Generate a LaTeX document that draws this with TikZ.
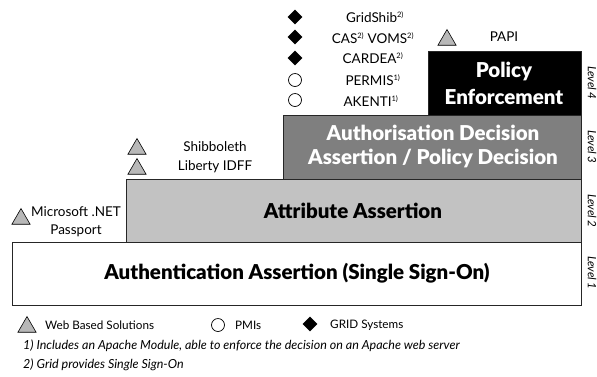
\documentclass[tikz,border=0pt]{standalone}
\usepackage{fontspec}
\setmainfont{Lato}[BoldFont={Lato Black}]
\usetikzlibrary{shapes.geometric}
\definecolor{webgray}{HTML}{B8B8B8}
\definecolor{lvltwo}{HTML}{C2C2C2}
\definecolor{lvlthree}{HTML}{7F7F7F}
\newcommand{\fn}[1]{\textsuperscript{\fontsize{7.5}{7.5}\selectfont #1)}}
\begin{document}
\begin{tikzpicture}[x=1pt,y=-1pt,
  webtri/.style={regular polygon, regular polygon sides=3, draw=black, fill=webgray, line width=0.6pt, inner sep=0pt, minimum size=21pt},
  pmi/.style={circle, draw=black, fill=white, line width=0.7pt, inner sep=0pt, minimum size=13pt},
  gridsys/.style={diamond, fill=black, inner sep=0pt, minimum size=15pt},
  lvlbox/.style={draw=black!85, line width=0.8pt},
  boxtext/.style={font=\fontsize{20.5}{24}\selectfont\bfseries, align=center, inner sep=0pt},
  itemtext/.style={font=\fontsize{13.5}{15}\selectfont, inner sep=0pt},
  legtext/.style={font=\fontsize{11.7}{14}\selectfont, inner sep=0pt, anchor=west},
  lvltext/.style={font=\fontsize{11.5}{12}\selectfont\itshape, rotate=-90, inner sep=0pt},
  fntext/.style={font=\fontsize{12.5}{14}\selectfont\itshape, anchor=west, inner sep=0pt}
]
\useasboundingbox (0,0) rectangle (597,376);
\fill[white] (0,0) rectangle (597,376);

% level boxes
\draw[lvlbox, fill=white] (12,242) rectangle (581,305);
\draw[lvlbox, fill=lvltwo] (126,179) rectangle (581,242);
\draw[lvlbox, fill=lvlthree] (283,115) rectangle (581,179);
\draw[lvlbox, fill=black] (428,51) rectangle (581,115);

\node[boxtext] (l1) at (297,273) {Authentication Assertion (Single Sign-On)};
\node[boxtext] (l2) at (353,211) {Attribute Assertion};
\node[boxtext, text=white, font=\fontsize{20.5}{24}\selectfont\bfseries] (l3) at (433,146) {Authorisation Decision\\Assertion / Policy Decision};
\node[boxtext, text=white, font=\fontsize{20.5}{27}\selectfont\bfseries] (l4) at (504,83) {Policy\\Enforcement};

% level labels
\node[lvltext] (lv4) at (592,83) {Level 4};
\node[lvltext] (lv3) at (592,147) {Level 3};
\node[lvltext] (lv2) at (592,211) {Level 2};
\node[lvltext] (lv1) at (592,273) {Level 1};

% top items
\node[gridsys] (d1) at (295,17) {};
\node[gridsys] (d2) at (295,37) {};
\node[gridsys] (d3) at (295,58) {};
\node[pmi] (c1) at (295,80) {};
\node[pmi] (c2) at (295,100) {};
\node[itemtext] (gridshib) at (375,17) {GridShib\fn{2}};
\node[itemtext] (casvoms) at (373,38) {CAS\fn{2} VOMS\fn{2}};
\node[itemtext] (cardea) at (373,58) {CARDEA\fn{2}};
\node[itemtext] (permis) at (373,80) {PERMIS\fn{1}};
\node[itemtext] (akenti) at (371,101) {AKENTI\fn{1}};

\node[webtri] (tpapi) at (447,40) {};
\node[itemtext] (papi) at (504,37) {PAPI};

\node[webtri] (tshib) at (137,149) {};
\node[itemtext] (shib) at (215,147) {Shibboleth};
\node[webtri] (tlib) at (137,169) {};
\node[itemtext] (lib) at (215,167) {Liberty IDFF};

\node[webtri] (tms) at (21,219) {};
\node[itemtext] (ms) at (76,212) {Microsoft .NET};
\node[itemtext] (pp) at (76,231) {Passport};

% legend
\node[webtri] (lgtri) at (27,327) {};
\node[legtext] (lgweb) at (45,325) {Web Based Solutions};
\node[pmi] (lgcirc) at (218,325) {};
\node[legtext] (lgpmi) at (235,325) {PMIs};
\node[gridsys] (lgdia) at (310,324) {};
\node[legtext] (lggrid) at (330,325) {GRID Systems};

% footnotes
\node[fntext] (fn1) at (23,346) {1) Includes an Apache Module, able to enforce the decision on an Apache web server};
\node[fntext] (fn2) at (23,365) {2) Grid provides Single Sign-On};
\end{tikzpicture}
\end{document}
